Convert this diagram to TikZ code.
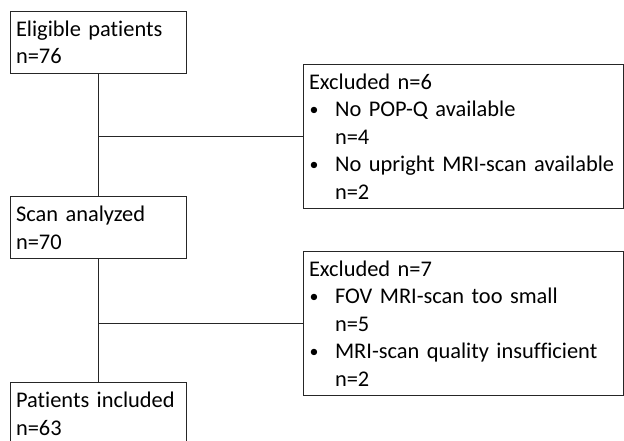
\documentclass[tikz,border=0pt]{standalone}
\usepackage{fontspec}
\setmainfont{Carlito}[Ligatures=NoCommon]
\begin{document}
\begin{tikzpicture}[x=1pt,y=-1pt,
  box/.style={draw=black!85, line width=1.1pt, anchor=north west, align=left,
    inner xsep=5.5pt, inner ysep=0pt, font=\fontsize{22.4}{27.5}\selectfont},
  smallbox/.style={box, minimum width=176pt, minimum height=62pt, text width=165pt},
  exbox/.style={box, minimum width=320pt, minimum height=144pt, text width=309pt},
  conn/.style={draw=black!85, line width=1.1pt}]
\useasboundingbox (0,0) rectangle (624,440);
\newcommand{\blt}{\makebox[26pt][l]{\hspace{0.5pt}\raisebox{1pt}{\scalebox{0.8}{\textbullet}}}}
\newcommand{\ind}{\hspace{26pt}}
\node[smallbox] (b1) at (10,11) {Eligible patients\\n=76};
\node[smallbox] (b2) at (10,196) {Scan analyzed\\n=70};
\node[smallbox] (b3) at (10,382) {Patients included\\n=63};
\node[exbox] (e1) at (303,64) {Excluded n=6\\\blt No POP-Q available\\\ind n=4\\\blt No upright MRI-scan available\\\ind n=2};
\node[exbox] (e2) at (303,251) {Excluded n=7\\\blt FOV MRI-scan too small\\\ind n=5\\\blt MRI-scan quality insufficient\\\ind n=2};
\draw[conn] (b1.south) -- (b2.north);
\draw[conn] (b2.south) -- (b3.north);
\draw[conn] (e1.west) -- (e1.west -| b1.south);
\draw[conn] (e2.west) -- (e2.west -| b2.south);
\end{tikzpicture}
\end{document}
